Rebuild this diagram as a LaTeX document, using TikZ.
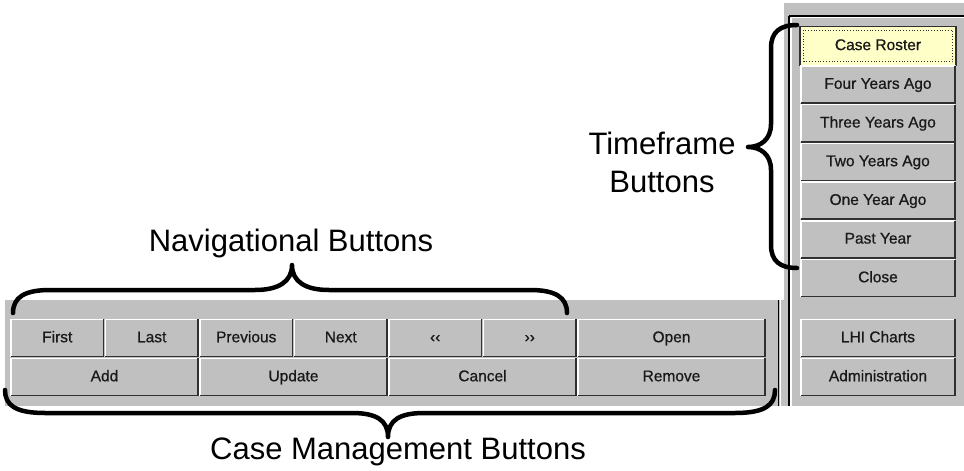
\documentclass[tikz,border=0pt]{standalone}
\usepackage{fontspec}
\setmainfont{Liberation Sans}
\newfontfamily\btnfont{Liberation Sans}[FakeBold=0.7]
\definecolor{panel}{RGB}{192,192,192}
\definecolor{shade}{RGB}{128,128,128}
\definecolor{edge}{RGB}{48,48,48}
\definecolor{roster}{RGB}{255,255,200}
\begin{document}
\begin{tikzpicture}[x=1pt,y=-1pt,
  btn/.style={fill=panel, inner sep=0pt, font=\btnfont\fontsize{15.5}{18}\selectfont, text=black!90,
    text height=11.5pt, text depth=3pt},
  rowbtn/.style={btn, minimum width=94.5pt, minimum height=39pt},
  widebtn/.style={btn, minimum width=189pt, minimum height=39pt},
  sidebtn/.style={btn, minimum width=156pt, minimum height=38.7pt},
  brace/.style={line width=4.5pt, line cap=round, line join=round},
  caption/.style={font=\fontsize{31}{38}\selectfont, align=center, inner sep=0pt}]
\fill[white] (0,0) rectangle (964,471);
\useasboundingbox (0,0) rectangle (964,471);

% window panels
\fill[panel] (784,3) rectangle (964,406);
\fill[panel] (5,300) rectangle (784,406);
% grooves between the panels
\draw[shade, line width=1.5pt] (778.5,300) -- (778.5,406);
\draw[white, line width=1.5pt] (780.5,300) -- (780.5,406);
\draw[shade, line width=1.5pt] (789,16) -- (789,406);
\draw[white, line width=1.5pt] (791,17.5) -- (791,406);
\draw[shade, line width=1.5pt] (789,16) -- (964,16);
\draw[white, line width=1.5pt] (791,17.5) -- (964,17.5);

% bottom button rows
\node[rowbtn] (first)  at (57.25,338)  {First};
\node[rowbtn] (last)   at (151.75,338) {Last};
\node[rowbtn] (prev)   at (246.25,338) {Previous};
\node[rowbtn] (next)   at (340.75,338) {Next};
\node[rowbtn] (back)   at (435.25,338) {‹‹};
\node[rowbtn] (fwd)    at (529.75,338) {››};
\node[widebtn] (open)  at (671.5,338)  {Open};
\node[widebtn] (add)    at (104.5,377) {Add};
\node[widebtn] (update) at (293.5,377) {Update};
\node[widebtn] (cancel) at (482.5,377) {Cancel};
\node[widebtn] (remove) at (671.5,377) {Remove};

% side column buttons
\node[sidebtn, fill=roster, draw=edge, line width=1.2pt] (roster) at (878,45.85) {Case Roster};
\node[sidebtn] (four)  at (878,84.55)  {Four Years Ago};
\node[sidebtn] (three) at (878,123.25) {Three Years Ago};
\node[sidebtn] (two)   at (878,161.95) {Two Years Ago};
\node[sidebtn] (one)   at (878,200.65) {One Year Ago};
\node[sidebtn] (past)  at (878,239.35) {Past Year};
\node[sidebtn] (close) at (878,278.05) {Close};
\node[rowbtn, minimum width=156pt] (lhi)   at (878,338) {LHI Charts};
\node[rowbtn, minimum width=156pt] (admin) at (878,377) {Administration};

% raised bevels
\foreach \b in {first,last,prev,next,back,fwd,open,add,update,cancel,remove,four,three,two,one,past,close,lhi,admin} {
  \draw[white, line width=1.5pt] ([shift={(1,-1)}]\b.south west) -- ([shift={(1,1)}]\b.north west) -- ([shift={(-1,1)}]\b.north east);
  \draw[edge, line width=1.5pt] ([shift={(-1,1)}]\b.north east) -- ([shift={(-1,-1)}]\b.south east) -- ([shift={(1,-1)}]\b.south west);
}
\draw[dotted, edge, line width=0.8pt] ([shift={(4,-4)}]roster.south west) rectangle ([shift={(-4,4)}]roster.north east);

% captions
\node[caption] (navtxt) at (291,243) {Navigational Buttons};
\node[caption] (tftxt)  at (662,162) {Timeframe\\Buttons};
\node[caption] (cmtxt)  at (398,452) {Case Management Buttons};

% braces
\draw[brace] (13,313) .. controls (13,297) and (25,290) .. (50,290) -- (255,290)
  .. controls (278,290) and (292,282) .. (292,265)
  .. controls (292,282) and (306,290) .. (329,290) -- (530,290)
  .. controls (555,290) and (567,297) .. (567,313);
\draw[brace] (797,25) .. controls (780,25) and (771,32) .. (771,48) -- (771,124)
  .. controls (771,140) and (760,147) .. (748,147)
  .. controls (760,147) and (771,154) .. (771,170) -- (771,245)
  .. controls (771,261) and (780,268) .. (797,268);
\draw[brace] (5,390) .. controls (5,405) and (15,413) .. (45,413) -- (352,413)
  .. controls (376,413) and (388,420) .. (388,437)
  .. controls (388,420) and (400,413) .. (424,413) -- (735,413)
  .. controls (765,413) and (775,405) .. (775,390);
\end{tikzpicture}
\end{document}
